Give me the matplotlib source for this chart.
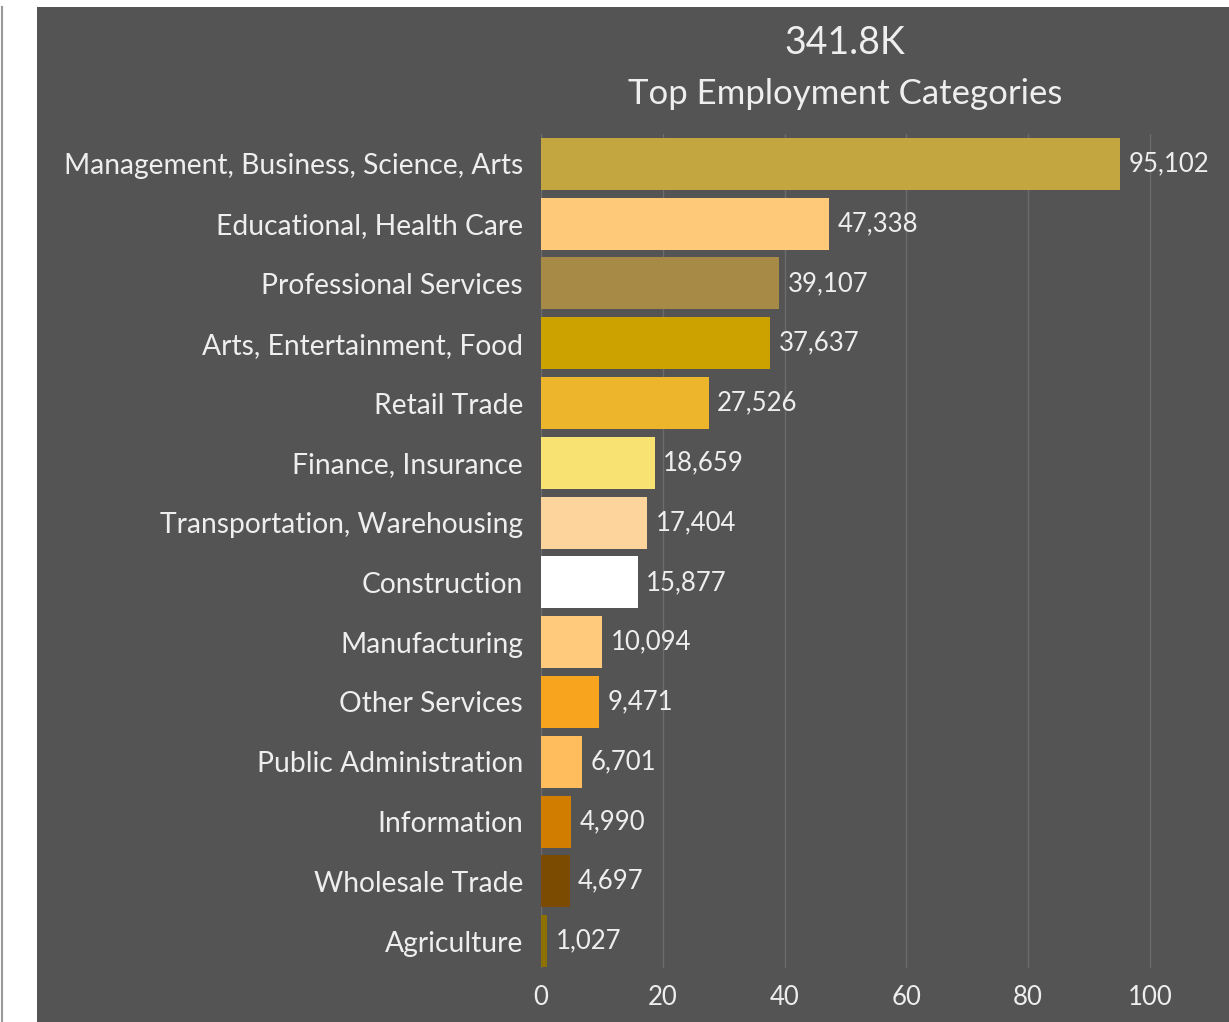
import matplotlib.pyplot as plt
from matplotlib.patches import Rectangle
from matplotlib.lines import Line2D

categories = [
    "Management, Business, Science, Arts",
    "Educational, Health Care",
    "Professional Services",
    "Arts, Entertainment, Food",
    "Retail Trade",
    "Finance, Insurance",
    "Transportation, Warehousing",
    "Construction",
    "Manufacturing",
    "Other Services",
    "Public Administration",
    "Information",
    "Wholesale Trade",
    "Agriculture",
]
workers = [95102, 47338, 39107, 37637, 27526, 18659, 17404,
           15877, 10094, 9471, 6701, 4990, 4697, 1027]
bar_colors = ["#c4a640", "#ffc97a", "#a68a45", "#cca200", "#ecb52c", "#f7e272",
              "#fcd49c", "#ffffff", "#ffca7c", "#f9a41f", "#ffbd5e", "#d07d00",
              "#7a4b00", "#8c7000"]
x_ticks = [0, 20, 40, 60, 80, 100]
total_label = "341.8K"
title = "Top Employment Categories"

panel = "#545454"
text_col = "#eeeeee"
plt.rcParams["font.family"] = ["Lato", "DejaVu Sans"]

fig = plt.figure(figsize=(12.29, 10.22), dpi=100)
fig.patch.set_facecolor("white")

# dark card and thin frame line on the left
fig.patches.append(Rectangle((37 / 1229, 0), 1 - 37 / 1229, 1 - 7 / 1022,
                             transform=fig.transFigure, facecolor=panel,
                             edgecolor="none", zorder=-5))
fig.lines.append(Line2D([1.5 / 1229, 1.5 / 1229], [0, 1 - 7 / 1022],
                        transform=fig.transFigure, color="#999999", lw=1.5,
                        zorder=-5))

ax = fig.add_axes([541 / 1229, 54 / 1022, 1 - 541 / 1229, 834 / 1022])
ax.set_facecolor(panel)

ypos = list(range(len(categories)))
vals_k = [v / 1000 for v in workers]
ax.barh(ypos, vals_k, height=0.87, color=bar_colors, zorder=3)
for y, v, raw in zip(ypos, vals_k, workers):
    ax.text(v + 1.4, y, f"{raw:,}", va="center", ha="left",
            color=text_col, fontsize=18.5, zorder=4)

ax.set_xlim(0, 113)
ax.set_ylim(len(categories) - 1 + 0.45, -0.5)
ax.set_xticks(x_ticks)
ax.set_yticks(ypos)
ax.set_yticklabels(categories, fontsize=20.3)
ax.tick_params(axis="both", length=0, colors=text_col)
ax.tick_params(axis="x", labelsize=18.5, pad=12)
ax.tick_params(axis="y", pad=13)
ax.grid(axis="x", color="#6c6c6c", lw=1, zorder=1)
for s in ax.spines.values():
    s.set_visible(False)

fig.text(845 / 1229, 1 - 43 / 1022, total_label, ha="center", va="center",
         color=text_col, fontsize=27)
fig.text(845 / 1229, 1 - 94 / 1022, title, ha="center", va="center",
         color=text_col, fontsize=25)

fig.savefig("out.png", dpi=100, facecolor=fig.get_facecolor())
